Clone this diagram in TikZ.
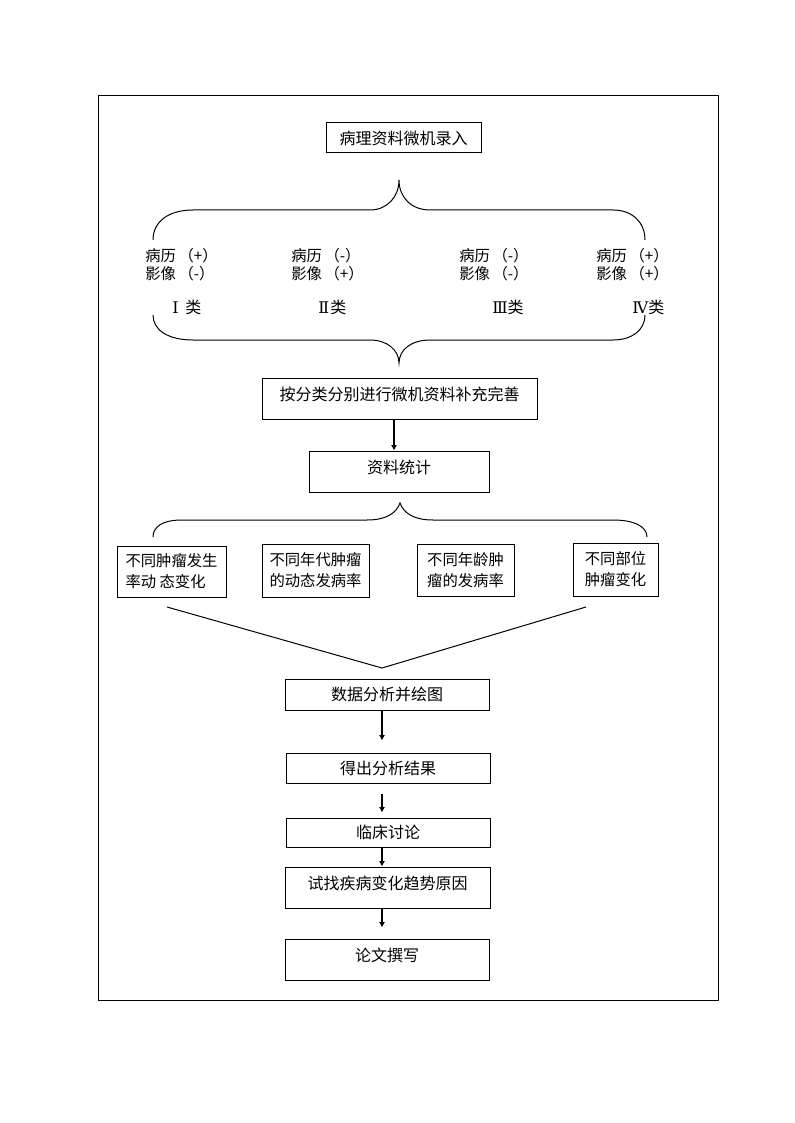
\documentclass[tikz,border=0pt]{standalone}
\usepackage{fontspec}
\setmainfont{Noto Sans CJK SC}
\newfontfamily\romfont{DejaVu Serif}
\usetikzlibrary{arrows.meta,calc}
\begin{document}
\begin{tikzpicture}[x=0.75pt,y=-0.75pt,
  sz/.style 2 args={minimum width=#1*0.75pt,minimum height=#2*0.75pt},
  box/.style={draw,line width=0.75pt,inner sep=0pt,font=\fontsize{12}{15}\selectfont},
  tallbox/.style={box,text height=9pt,text depth=6pt},
  sbox/.style={draw,line width=0.75pt,inner sep=0pt,align=left,font=\fontsize{11.5}{15.75}\selectfont},
  lbl/.style={inner sep=0pt,align=left,anchor=west,font=\fontsize{11.5}{13.5}\selectfont},
  rom/.style={inner sep=0pt,anchor=west,font=\fontsize{12}{14}\selectfont},
  thin/.style={line width=0.75pt},
  arr/.style={line width=1.5pt,-{Latex[length=4pt,width=4.5pt]}}
]
\useasboundingbox (0,0) rectangle (794,1123);
\fill[white] (0,0) rectangle (794,1123);
\draw[thin] (98,96) rectangle (718,1000);

% top box
\node[box,sz={155}{30}] (n1) at (403.5,138) {病理资料微机录入};

% top brace
\draw[thin] (153,240) .. controls (153,222) and (168,210) .. (193,210) -- (370,210)
  .. controls (387,210) and (399,197) .. (399,180)
  .. controls (399,197) and (411,210) .. (430,210) -- (613,210)
  .. controls (632,210) and (645,222) .. (645,240);

% labels
\node[lbl] (l1) at (145,264.5) {病历\hspace{2pt}（+）\\影像\hspace{2pt}（-）};
\node[lbl] (l2) at (291,264.5) {病历\hspace{2pt}（-）\\影像\hspace{2pt}（+）};
\node[lbl] (l3) at (459,264.5) {病历\hspace{2pt}（-）\\影像\hspace{2pt}（-）};
\node[lbl] (l4) at (596,264.5) {病历\hspace{2pt}（+）\\影像\hspace{2pt}（+）};

\node[rom] (r1) at (172,307) {{\romfont Ⅰ}\hspace{5pt}类};
\node[rom] (r2) at (318,307) {{\romfont Ⅱ}\hspace{1pt}类};
\node[rom] (r3) at (492,307) {{\romfont Ⅲ}类};
\node[rom] (r4) at (632,307) {{\romfont Ⅳ}类};

% bottom brace
\draw[thin] (153,315) .. controls (153,330) and (168,340) .. (193,340) -- (370,340)
  .. controls (387,340) and (399,350) .. (399,363)
  .. controls (399,350) and (411,340) .. (430,340) -- (613,340)
  .. controls (632,340) and (645,330) .. (645,315);

\node[tallbox,sz={275}{41}] (n2) at (399.5,398.5) {按分类分别进行微机资料补充完善};
\node[tallbox,sz={180}{41}] (n3) at (399,471.5) {资料统计};

\coordinate (bx) at (394,0);
\draw[arr] (n2.south -| bx) -- (n3.north -| bx);

% middle brace
\draw[thin] (153,537) .. controls (153,527) and (162,520) .. (182,520) -- (367,520)
  .. controls (385,520) and (396,514) .. (400,503)
  .. controls (404,514) and (415,520) .. (433,520) -- (613,520)
  .. controls (635,520) and (647,527) .. (647,537);

\node[sbox,sz={109}{51}] (a) at (171.5,571.5) {不同肿瘤发生\\率动 态变化};
\node[sbox,sz={107}{53}] (b) at (315.5,570.5) {不同年代肿瘤\\的动态发病率};
\node[sbox,sz={97}{52}] (c) at (465.5,570) {不同年龄肿\\瘤的发病率};
\node[sbox,sz={85}{53}] (d) at (615.5,569.5) {不同部位\\肿瘤变化};

% converging lines
\coordinate (vl) at (167,607);
\coordinate (vm) at (382,668);
\coordinate (vr) at (586,607);
\draw[thin] (vl) -- (vm) -- (vr);

\node[box,sz={204}{31}] (e) at (387,694.5) {数据分析并绘图};
\node[box,sz={204}{30}] (f) at (388,768) {得出分析结果};
\node[box,sz={204}{29}] (g) at (388,832.5) {临床讨论};
\node[tallbox,sz={205}{41}] (h) at (387.5,887.5) {试找疾病变化趋势原因};
\node[tallbox,sz={204}{41}] (i) at (387,959.5) {论文撰写};

\coordinate (ax) at (382,0);
\draw[arr] (e.south -| ax) -- ($(f.north -| ax)+(0,-12)$);
\draw[arr] ($(f.south -| ax)+(0,10)$) -- ($(g.north -| ax)+(0,-5)$);
\draw[arr] (g.south -| ax) -- (h.north -| ax);
\draw[arr] (h.south -| ax) -- ($(i.north -| ax)+(0,-11)$);
\end{tikzpicture}
\end{document}
